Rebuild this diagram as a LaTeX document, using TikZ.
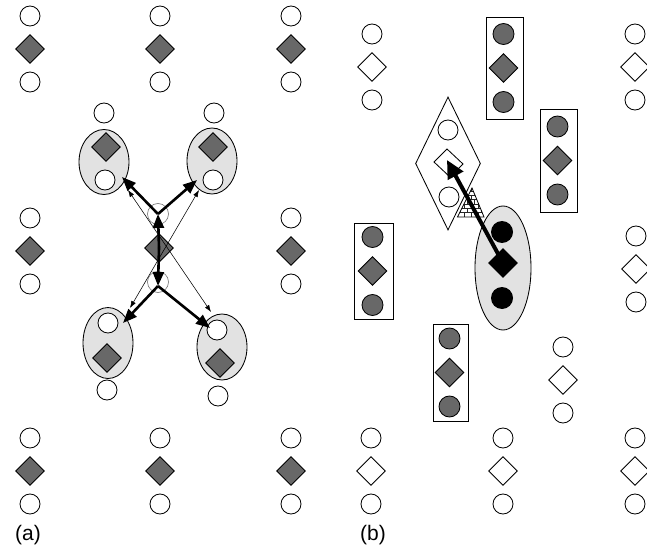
\documentclass[tikz,border=0pt]{standalone}
\usepackage{fontspec}
\setmainfont{Liberation Sans}
\usetikzlibrary{shapes.geometric,arrows.meta}
\definecolor{tone}{RGB}{104,104,104}
\definecolor{haze}{RGB}{226,226,226}
\begin{document}
\begin{tikzpicture}[x=1pt,y=-1pt,line width=0.85pt,
  oc/.style={circle,draw,fill=white,minimum size=20pt,inner sep=0pt},
  gc/.style={circle,draw,fill=tone,minimum size=21pt,inner sep=0pt},
  bc/.style={circle,fill=black,minimum size=22pt,inner sep=0pt},
  gd/.style={diamond,draw,fill=tone,minimum width=29pt,minimum height=29pt,inner sep=0pt},
  od/.style={diamond,draw,fill=white,minimum width=29pt,minimum height=29pt,inner sep=0pt},
  bd/.style={diamond,fill=black,minimum width=30pt,minimum height=30pt,inner sep=0pt},
  cell/.style={ellipse,draw,fill=haze,inner sep=0pt},
  frame/.style={rectangle,draw,inner sep=0pt},
  ghost/.style={circle,draw=black!55,line width=0.6pt,minimum size=21pt,inner sep=0pt},
  fine/.style={{Latex[length=7pt,width=5pt]}-{Latex[length=7pt,width=5pt]},line width=0.55pt},
  bold/.style={-{Triangle[length=14pt,width=11pt]},line width=2.6pt},
  heavy/.style={-{Triangle[length=18pt,width=17pt]},line width=4pt},
  brick/.style={line width=0.6pt,draw=black!85},
  lbl/.style={font=\fontsize{21}{25}\selectfont,inner sep=0pt}]
\useasboundingbox (0,0) rectangle (647,553);

% ---------- panel (a): regular lattice ----------
\foreach \x/\y/\n in {30/49/a1,160/49/a2,291/49/a3,30/251/a4,291/251/a5,
                      30/471/a6,160/471/a7,291/471/a8}{
  \node[gd] (\n-m) at (\x,\y) {};
  \node[oc] (\n-u) at (\x,\y-33) {};
  \node[oc] (\n-d) at (\x,\y+33) {};
}

% four shaded pairs around the central site
\node[cell,minimum width=50pt,minimum height=65pt] (e1) at (104,162) {};
\node[gd] (e1-m) at (106,147) {};
\node[oc] (e1-c) at (105,180) {};
\node[cell,minimum width=50pt,minimum height=66pt] (e2) at (212,161) {};
\node[gd] (e2-m) at (213,147) {};
\node[oc] (e2-c) at (213,180) {};
\node[cell,minimum width=50pt,minimum height=71pt] (e3) at (108,343) {};
\node[oc] (e3-c) at (108,323) {};
\node[gd] (e3-m) at (107,358) {};
\node[cell,minimum width=50pt,minimum height=66pt] (e4) at (222,347) {};
\node[oc] (e4-c) at (217,330) {};
\node[gd] (e4-m) at (220,363) {};
\node[oc] (o1) at (104,113) {};
\node[oc] (o2) at (214,113) {};
\node[oc] (o3) at (107,390) {};
\node[oc] (o4) at (218,396) {};

% central site with its two vacant neighbours
\node[ghost] (g1) at (158,214) {};
\node[ghost] (g2) at (158,282) {};
\node[gd] (c0) at (159,248) {};

\coordinate (t1) at (128,190);
\coordinate (t2) at (199,190);
\coordinate (t3) at (130,308);
\coordinate (t4) at (211,312);
\draw[fine] (t1) -- (t4);
\draw[fine] (t2) -- (t3);

\coordinate (h1) at (122,177);
\coordinate (h2) at (197,180);
\coordinate (h3) at (123,323);
\coordinate (h4) at (210,328);
\coordinate (v1) at (158,286);
\draw[bold] (c0.center) -- (g1.center);
\draw[bold] (c0.center) -- (v1);
\draw[bold] (g1.center) -- (h1);
\draw[bold] (g1.center) -- (h2);
\draw[bold] (v1) -- (h3);
\draw[bold] (v1) -- (h4);

% ---------- panel (b): disordered lattice ----------
\foreach \x/\y/\n in {372/67/b1,635/67/b2,636/269/b3,563/380/b4,
                      371/471/b5,503/471/b6,635/471/b7}{
  \node[od] (\n-m) at (\x,\y) {};
  \node[oc] (\n-u) at (\x,\y-33) {};
  \node[oc] (\n-d) at (\x,\y+33) {};
}

% boxed columns
\foreach \x/\y/\w/\h/\n in {504.5/68/37/102/r1,558.5/160.5/37/103/r2,
                            373.5/271/39/96/r3,450.5/372.5/35/97/r4}{
  \node[frame,minimum width=\w pt,minimum height=\h pt] (\n) at (\x,\y) {};
  \node[gc] (\n-u) at (\x-1,\y-34) {};
  \node[gd] (\n-m) at (\x-1,\y) {};
  \node[gc] (\n-d) at (\x-1,\y+34) {};
}

% rhombus holding the target site
\node[diamond,draw,fill=white,minimum width=65pt,minimum height=133pt,inner sep=0pt] (rh) at (448,163.5) {};
\node[oc] (rh-u) at (448,130) {};
\node[oc] (rh-d) at (449,197) {};
\coordinate (q1) at (447,149);
\coordinate (q2) at (463,164);
\coordinate (q3) at (450,177);
\coordinate (q4) at (434,162);
\draw[fill=white] (q1) -- (q2) -- (q3) -- (q4) -- cycle;

% brick pyramid (barrier)
\begin{scope}
  \clip (472,188) -- (457.5,217) -- (484,217) -- cycle;
  \foreach \k in {0,...,6}{
    \pgfmathsetmacro\yb{217-\k*4.3}
    \pgfmathsetmacro\yt{217-(\k+1)*4.3}
    \pgfmathsetmacro\sh{mod(\k,2)*3.5}
    \draw[brick] (455,\yb) -- (487,\yb);
    \foreach \j in {0,...,4}{
      \draw[brick] (457+\sh+\j*7,\yb) -- (457+\sh+\j*7,\yt);
    }
  }
\end{scope}
\draw[line width=0.8pt] (472,188) -- (457.5,217) -- (484,217) -- cycle;

% shaded group with the hopping site
\node[cell,minimum width=56pt,minimum height=124pt] (eb) at (503,268) {};
\node[bc] (eb-u) at (502,232) {};
\node[bd] (eb-m) at (503,263) {};
\node[bc] (eb-d) at (502,298) {};

\coordinate (hb) at (447,160);
\draw[heavy] (eb-m.center) -- (hb);

% ---------- labels ----------
\node[lbl] (la) at (28,535) {(a)};
\node[lbl] (lb) at (373,535) {(b)};
\end{tikzpicture}
\end{document}
